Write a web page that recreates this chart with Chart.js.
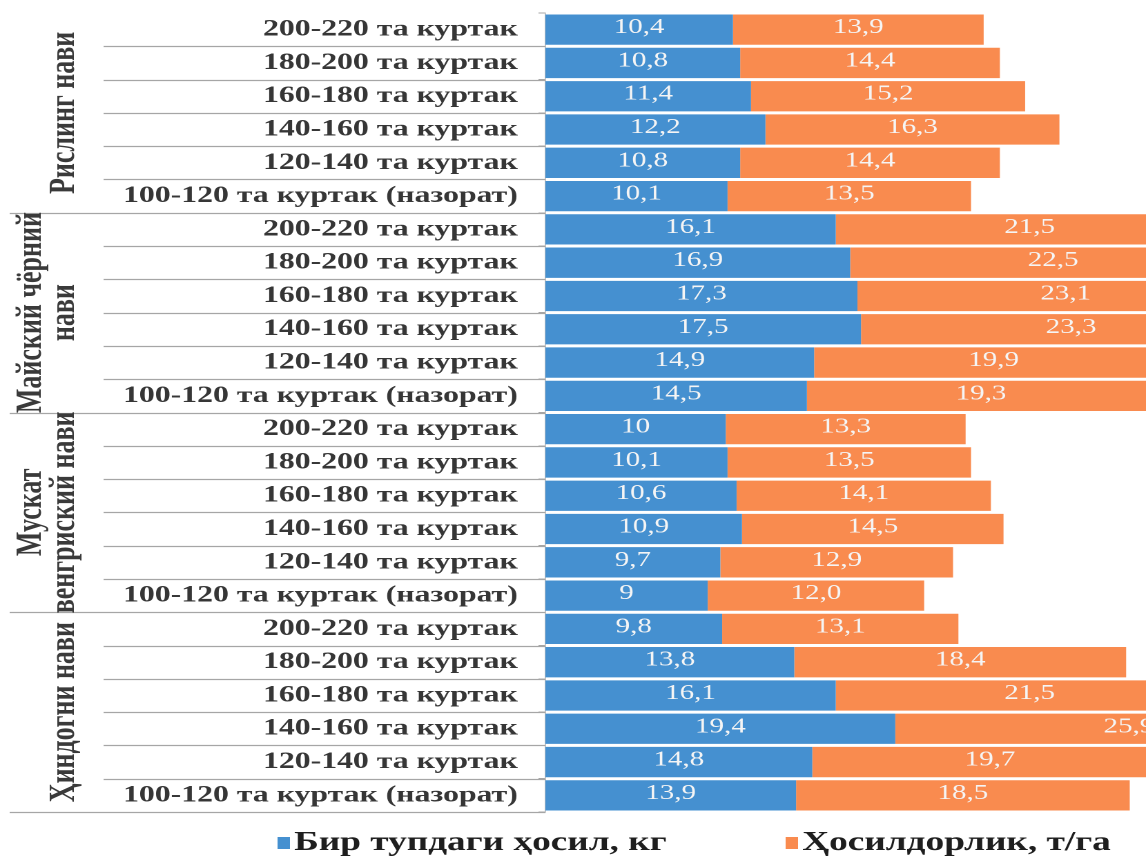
<!DOCTYPE html>
<html>
<head>
<meta charset="utf-8">
<script src="https://cdn.jsdelivr.net/npm/chart.js@4.4.1/dist/chart.umd.min.js"></script>
<style>
  html, body { margin: 0; padding: 0; background: #fff; overflow: hidden; }
  /* the source picture is stretched sideways, so the whole canvas is too */
  #wrap { width: 830px; height: 861px; transform: scaleX(1.3807); transform-origin: 0 0; }
</style>
</head>
<body>
<div id="wrap"><canvas id="chart" width="830" height="861"></canvas></div>
<script>
// Rows, top to bottom
const categories = [
    '200-220 та куртак', '180-200 та куртак', '160-180 та куртак',
    '140-160 та куртак', '120-140 та куртак', '100-120 та куртак (назорат)',
    '200-220 та куртак', '180-200 та куртак', '160-180 та куртак',
    '140-160 та куртак', '120-140 та куртак', '100-120 та куртак (назорат)',
    '200-220 та куртак', '180-200 та куртак', '160-180 та куртак',
    '140-160 та куртак', '120-140 та куртак', '100-120 та куртак (назорат)',
    '200-220 та куртак', '180-200 та куртак', '160-180 та куртак',
    '140-160 та куртак', '120-140 та куртак', '100-120 та куртак (назорат)'
];

// Variety names (one entry per line of the rotated label)
const groupNames = [
    ['Рислинг нави'],
    ['Майский чёрний', 'нави'],
    ['Мускат', 'венгриский нави'],
    ['Ҳиндогни нави']
];
const groupSize = 6;

const seriesNames = ['Бир тупдаги ҳосил, кг', 'Ҳосилдорлик, т/га'];

// Yield per vine, kg
const perVine = [
    10.4, 10.8, 11.4, 12.2, 10.8, 10.1,
    16.1, 16.9, 17.3, 17.5, 14.9, 14.5,
    10, 10.1, 10.6, 10.9, 9.7, 9,
    9.8, 13.8, 16.1, 19.4, 14.8, 13.9
];

// Yield per hectare, t/ha
const perHectare = [
    13.9, 14.4, 15.2, 16.3, 14.4, 13.5,
    21.5, 22.5, 23.1, 23.3, 19.9, 19.3,
    13.3, 13.5, 14.1, 14.5, 12.9, 12.0,
    13.1, 18.4, 21.5, 25.9, 19.7, 18.5
];

const serif = 'Liberation Serif, Times New Roman, serif';

const fmtPlain = v => String(v).replace('.', ',');
const fmtFixed = v => v.toFixed(1).replace('.', ',');

// Separator lines in the label column
const rowLines = {
    id: 'rowLines',
    afterDraw(chart) {
        const ctx = chart.ctx;
        const y = chart.scales.y;
        const half = (y.getPixelForValue(1) - y.getPixelForValue(0)) / 2;
        ctx.save();
        ctx.strokeStyle = '#a6a6a6';
        ctx.lineWidth = 1.3;
        for (let i = 0; i < categories.length; i++) {
            const yb = Math.round(y.getPixelForValue(i) + half) + 0.5;
            const groupEnd = (i + 1) % groupSize === 0;
            ctx.beginPath();
            ctx.moveTo(groupEnd ? 7 : 75, yb);
            ctx.lineTo(chart.chartArea.left, yb);
            ctx.stroke();
        }
        ctx.restore();
    }
};

// Rotated variety names
const groupLabels = {
    id: 'groupLabels',
    afterDraw(chart) {
        const ctx = chart.ctx;
        const y = chart.scales.y;
        ctx.save();
        ctx.fillStyle = '#3a3a3a';
        ctx.font = 'bold 26px ' + serif;
        ctx.textAlign = 'center';
        ctx.textBaseline = 'middle';
        groupNames.forEach((lines, g) => {
            const first = y.getPixelForValue(g * groupSize);
            const last = y.getPixelForValue(g * groupSize + groupSize - 1);
            const cy = (first + last) / 2;
            lines.forEach((line, k) => {
                const cx = 47 - (lines.length - 1 - k) * 24;
                ctx.save();
                ctx.translate(cx, cy);
                ctx.rotate(-Math.PI / 2);
                ctx.fillText(line, 0, 0);
                ctx.restore();
            });
        });
        ctx.restore();
    }
};

// Value labels in the middle of each segment
const barValues = {
    id: 'barValues',
    afterDatasetsDraw(chart) {
        const ctx = chart.ctx;
        ctx.save();
        ctx.fillStyle = '#f5f5f5';
        ctx.font = '21px ' + serif;
        ctx.textAlign = 'center';
        ctx.textBaseline = 'middle';
        chart.data.datasets.forEach((ds, d) => {
            const meta = chart.getDatasetMeta(d);
            meta.data.forEach((bar, i) => {
                const cx = (bar.x + bar.base) / 2;
                ctx.fillText(ds.fmt(ds.data[i]), cx, bar.y - 2);
            });
        });
        ctx.restore();
    }
};

// Legend under the plot
const legendRow = {
    id: 'legendRow',
    afterDraw(chart) {
        const ctx = chart.ctx;
        const xs = [201, 569];
        const cy = 843;
        ctx.save();
        ctx.font = 'bold 27px ' + serif;
        ctx.textBaseline = 'middle';
        ctx.textAlign = 'left';
        chart.data.datasets.forEach((ds, d) => {
            ctx.fillStyle = ds.backgroundColor;
            ctx.fillRect(xs[d], cy - 6, 9, 12);
            ctx.fillStyle = '#1e1e1e';
            ctx.fillText(ds.label, xs[d] + 12, cy);
        });
        ctx.restore();
    }
};

new Chart(document.getElementById('chart'), {
    type: 'bar',
    data: {
        labels: categories,
        datasets: [
            {
                label: seriesNames[0],
                data: perVine,
                backgroundColor: '#4590d0',
                fmt: fmtPlain
            },
            {
                label: seriesNames[1],
                data: perHectare,
                backgroundColor: '#f98b4f',
                fmt: fmtFixed
            }
        ]
    },
    options: {
        indexAxis: 'y',
        responsive: false,
        devicePixelRatio: 2,
        animation: false,
        barPercentage: 0.91,
        categoryPercentage: 1.0,
        layout: { padding: { top: 13, bottom: 49, left: 0, right: 0 } },
        plugins: {
            legend: { display: false },
            tooltip: { enabled: false }
        },
        scales: {
            x: {
                stacked: true,
                min: 0,
                max: 33.3,
                display: false
            },
            y: {
                stacked: true,
                afterFit: s => {
                    s.width = 395;
                    s.paddingTop = 0;
                    s.paddingBottom = 0;
                },
                grid: { drawOnChartArea: false, offset: true, tickLength: 5, color: '#a6a6a6' },
                border: { color: '#c4c4c4' },
                ticks: {
                    autoSkip: false,
                    color: '#363636',
                    padding: 15,
                    font: { family: serif, size: 23, weight: 'bold' }
                }
            }
        }
    },
    plugins: [rowLines, groupLabels, barValues, legendRow]
});
</script>
</body>
</html>
